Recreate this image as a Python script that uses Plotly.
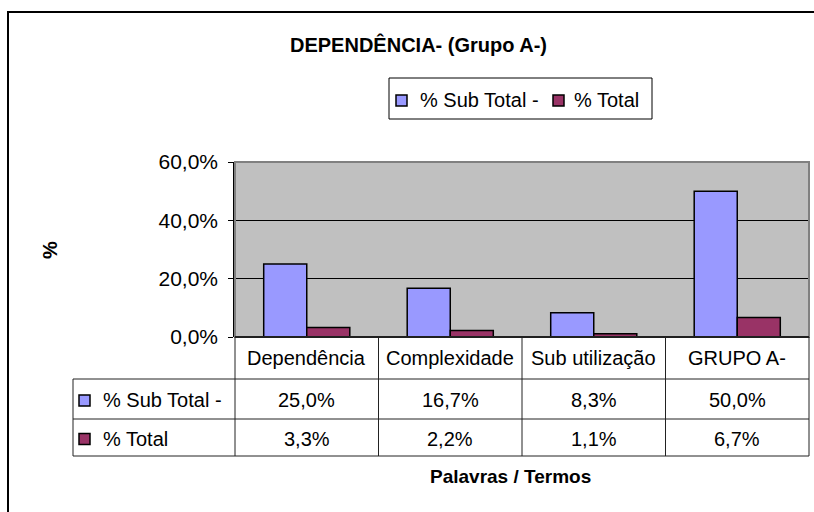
import plotly.graph_objects as go

# ---- data ----
categories = ["Dependência", "Complexidade", "Sub utilização", "GRUPO A-"]
series_names = ["% Sub Total -", "% Total"]
sub_total = [25.0, 16.7, 8.3, 50.0]
total = [3.3, 2.2, 1.1, 6.7]
y_ticks = [0.0, 0.2, 0.4, 0.6]
colors = ["#9999FF", "#993366"]

W, H = 814, 512
FONT = "Liberation Sans, Arial, sans-serif"


def px(x):
    return x / W


def py(y):
    return 1 - y / H


def pct(v):
    return f"{v:.1f}%".replace(".", ",")


fig = go.Figure()
for name, vals, col in zip(series_names, [sub_total, total], colors):
    fig.add_trace(go.Bar(
        x=categories, y=[v / 100 for v in vals], name=name,
        marker=dict(color=col, line=dict(color="black", width=1.5)),
        showlegend=False,
    ))

LEFT, RIGHT, TOP, BOT = 235, 809, 162, 337
ROW1, ROW2, ROW3 = 379, 419, 456
TBL_LEFT = 73

shapes = []
line_col = "#222222"
# outer chart border (extends beyond visible window on right/bottom)
shapes.append(dict(type="rect", xref="paper", yref="paper",
                   x0=px(8), x1=px(840), y0=py(12), y1=py(540),
                   line=dict(color="black", width=2), fillcolor="rgba(0,0,0,0)"))
# plot area border
shapes.append(dict(type="rect", xref="paper", yref="paper",
                   x0=px(LEFT), x1=px(RIGHT), y0=py(TOP), y1=py(BOT),
                   line=dict(color="#808080", width=2), fillcolor="rgba(0,0,0,0)",
                   layer="above"))
# x axis line
shapes.append(dict(type="line", xref="paper", yref="paper",
                   x0=px(LEFT), x1=px(RIGHT), y0=py(BOT), y1=py(BOT),
                   line=dict(color="black", width=1.5)))
# table horizontal lines
for yy in [ROW1, ROW2, ROW3]:
    shapes.append(dict(type="line", xref="paper", yref="paper",
                       x0=px(TBL_LEFT), x1=px(RIGHT), y0=py(yy), y1=py(yy),
                       line=dict(color=line_col, width=1)))
# table verticals
shapes.append(dict(type="line", xref="paper", yref="paper",
                   x0=px(TBL_LEFT), x1=px(TBL_LEFT), y0=py(ROW1), y1=py(ROW3),
                   line=dict(color=line_col, width=1)))
shapes.append(dict(type="line", xref="paper", yref="paper",
                   x0=px(LEFT), x1=px(LEFT), y0=py(BOT), y1=py(ROW3),
                   line=dict(color=line_col, width=1)))
shapes.append(dict(type="line", xref="paper", yref="paper",
                   x0=px(RIGHT), x1=px(RIGHT), y0=py(BOT), y1=py(ROW3),
                   line=dict(color=line_col, width=1)))
for i in range(len(categories) - 1):
    shapes.append(dict(type="line", xref="x", yref="paper",
                       x0=i + 0.5, x1=i + 0.5, y0=py(BOT), y1=py(ROW3),
                       line=dict(color=line_col, width=1)))

annotations = []
# title
annotations.append(dict(text="<b>DEPENDÊNCIA- (Grupo A-)</b>", xref="paper", yref="paper",
                        x=px(418), y=py(44), xanchor="center", yanchor="middle",
                        showarrow=False, font=dict(size=20, color="black", family=FONT)))
# y axis title
annotations.append(dict(text="<b>%</b>", xref="paper", yref="paper",
                        x=px(50), y=py(250), xanchor="center", yanchor="middle",
                        textangle=-90, showarrow=False,
                        font=dict(size=20, color="black", family=FONT)))
# x axis title
annotations.append(dict(text="<b>Palavras / Termos</b>", xref="paper", yref="paper",
                        x=px(510), y=py(476), xanchor="center", yanchor="middle",
                        showarrow=False, font=dict(size=19, color="black", family=FONT)))

# legend box (manual)
shapes.append(dict(type="rect", xref="paper", yref="paper",
                   x0=px(389), x1=px(652), y0=py(78), y1=py(119),
                   line=dict(color="black", width=1), fillcolor="white"))
leg_items = [(396, 418), (553, 572)]
for (sx, tx), name, col in zip(leg_items, series_names, colors):
    shapes.append(dict(type="rect", xref="paper", yref="paper",
                       x0=px(sx), x1=px(sx + 11), y0=py(95), y1=py(106),
                       line=dict(color="black", width=1.5), fillcolor=col))
    annotations.append(dict(text=name, xref="paper", yref="paper",
                            x=px(tx), y=py(100), xanchor="left", yanchor="middle",
                            showarrow=False, font=dict(size=20, color="black", family=FONT)))

# table: category row
for c in categories:
    annotations.append(dict(text=c, xref="x", yref="paper", x=c, y=py((BOT + ROW1) / 2),
                            xanchor="center", yanchor="middle", showarrow=False,
                            font=dict(size=20, color="black", family=FONT)))
# table: series rows
row_centers = [(ROW1 + ROW2) / 2, (ROW2 + ROW3) / 2]
for yc, name, vals, col in zip(row_centers, series_names, [sub_total, total], colors):
    shapes.append(dict(type="rect", xref="paper", yref="paper",
                       x0=px(79), x1=px(90), y0=py(yc - 4), y1=py(yc + 7),
                       line=dict(color="black", width=1.5), fillcolor=col))
    annotations.append(dict(text=name, xref="paper", yref="paper",
                            x=px(101), y=py(yc + 1), xanchor="left", yanchor="middle",
                            showarrow=False, font=dict(size=20, color="black", family=FONT)))
    for c, v in zip(categories, vals):
        annotations.append(dict(text=pct(v), xref="x", yref="paper", x=c, y=py(yc + 1),
                                xanchor="center", yanchor="middle", showarrow=False,
                                font=dict(size=20, color="black", family=FONT)))

fig.update_layout(
    template="none",
    width=W, height=H, autosize=False,
    margin=dict(l=0, r=0, t=0, b=0, pad=0, autoexpand=False),
    paper_bgcolor="white", plot_bgcolor="#C0C0C0",
    separators=",.",
    barmode="group", bargap=0.4, bargroupgap=0,
    font=dict(family=FONT, size=20, color="black"),
    shapes=shapes, annotations=annotations,
    xaxis=dict(domain=[px(LEFT), px(RIGHT)], type="category", automargin=False,
               showticklabels=False, showgrid=False, zeroline=False,
               showline=False, ticks=""),
    yaxis=dict(domain=[py(BOT), py(TOP)], range=[0, 0.6], automargin=False,
               tickvals=y_ticks, tickformat=".1%",
               showgrid=True, gridcolor="black", gridwidth=1,
               zeroline=False, showline=True, linecolor="black", linewidth=1.5,
               ticks="outside", ticklen=5, tickcolor="black", tickwidth=1,
               ticklabelstandoff=6,
               tickfont=dict(size=21, color="black", family=FONT)),
)

fig.write_html(
    "out.html",
    config=dict(displayModeBar=False),
    post_script="document.body.style.margin='0';document.body.style.padding='0';"
                "document.body.style.overflow='hidden';",
)
